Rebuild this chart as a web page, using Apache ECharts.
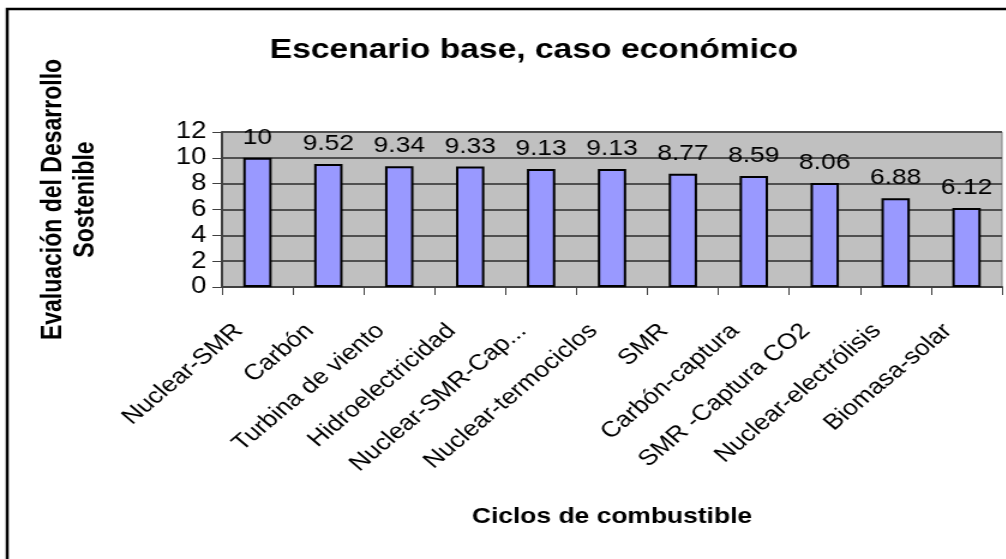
<!DOCTYPE html>
<html>
<head>
<meta charset="utf-8">
<script src="https://cdn.jsdelivr.net/npm/echarts@6/dist/echarts.min.js"></script>
<style>
html,body{margin:0;padding:0;background:#fff;overflow:hidden;}
#wrap{width:1006px;height:559px;overflow:hidden;}
#chart{width:838px;height:559px;transform:scaleX(1.2);transform-origin:0 0;}
</style>
</head>
<body>
<div id="wrap"><div id="chart"></div></div>
<script>
const categories = ["Nuclear-SMR","Carbón","Turbina de viento","Hidroelectricidad","Nuclear-SMR-Cap...","Nuclear-termociclos","SMR","Carbón-captura","SMR -Captura CO2","Nuclear-electrólisis","Biomasa-solar"];
const values = [10, 9.52, 9.34, 9.33, 9.13, 9.13, 8.77, 8.59, 8.06, 6.88, 6.12];
const yTicks = [0, 2, 4, 6, 8, 10, 12];
const titleText = "Escenario base, caso económico";
const yName = "Evaluación del Desarrollo\nSostenible";
const xName = "Ciclos de combustible";

const chart = echarts.init(document.getElementById('chart'), null, {renderer:'canvas'});
const F = 'Arial, "Liberation Sans", sans-serif';
chart.setOption({
  animation:false,
  backgroundColor:'#fff',
  title:{text:titleText,left:440,top:31,textAlign:'center',
    textStyle:{fontFamily:F,fontSize:28,fontWeight:'bold',color:'#000'}},
  graphic:[{type:'rect',shape:{x:6,y:9,width:1000,height:700},
    style:{fill:'none',stroke:'#000',lineWidth:2.5},silent:true}],
  grid:{left:185,right:3,top:132,bottom:272,containLabel:false,show:true,
    backgroundColor:'#c0c0c0',borderColor:'#808080',borderWidth:1},
  xAxis:{type:'category',data:categories,
    axisLine:{lineStyle:{color:'#404040',width:2}},
    axisTick:{show:true,length:8,alignWithLabel:false,lineStyle:{color:'#404040',width:1}},
    axisLabel:{interval:0,rotate:45,margin:25,padding:[0,22,0,0],fontFamily:F,fontSize:22,color:'#000'},
    name:xName,nameLocation:'middle',nameGap:219,
    nameTextStyle:{fontFamily:F,fontSize:22,fontWeight:'bold',color:'#000'}},
  yAxis:{type:'value',min:0,max:12,interval:2,
    axisLine:{show:true,lineStyle:{color:'#404040',width:2}},
    axisTick:{show:true,length:8,lineStyle:{color:'#404040',width:1}},
    axisLabel:{margin:13,fontFamily:F,fontSize:23,color:'#000',
      formatter:function(v){return yTicks.indexOf(v)>=0?String(v):'';}},
    splitLine:{show:true,lineStyle:{color:'#505050',width:2}},
    name:yName,nameLocation:'middle',nameRotate:90,nameGap:100,
    nameTextStyle:{fontFamily:F,fontSize:23,fontWeight:'bold',color:'#000',lineHeight:27,align:'center',padding:[0,0,0,20]}},
  series:[{type:'bar',data:values,barWidth:'40%',
    itemStyle:{color:'#9999ff',borderColor:'#000',borderWidth:2},
    label:{show:true,position:'top',distance:9,fontFamily:F,fontSize:22,color:'#000'}}]
});
</script>
</body>
</html>
